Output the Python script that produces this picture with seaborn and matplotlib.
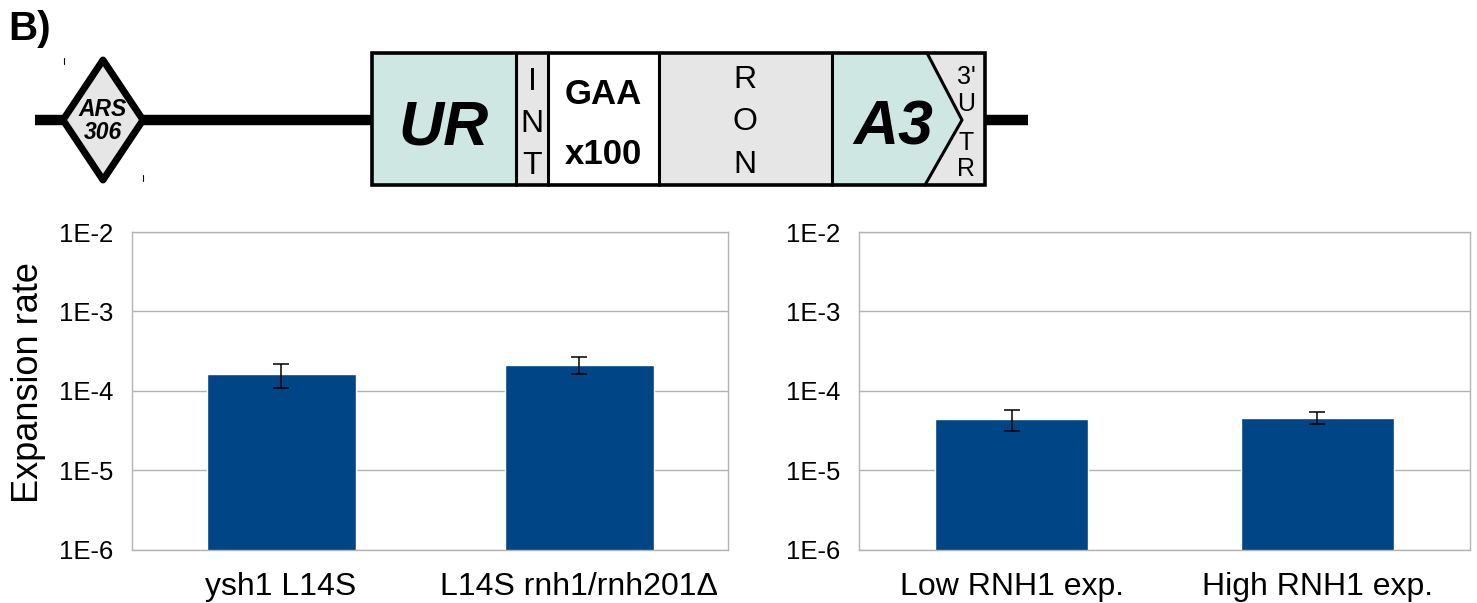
import matplotlib
matplotlib.use("Agg")
import matplotlib.pyplot as plt
import numpy as np
import seaborn as sns
from matplotlib.patches import Polygon, Rectangle
from matplotlib.ticker import NullLocator

# data
left_labels = ["ysh1 L14S", "L14S rnh1/rnh201Δ"]
left_rate = [1.62e-4, 2.10e-4]
left_low = [1.07e-4, 1.61e-4]
left_high = [2.18e-4, 2.67e-4]

right_labels = ["Low RNH1 exp.", "High RNH1 exp."]
right_rate = [4.44e-5, 4.57e-5]
right_low = [3.14e-5, 3.81e-5]
right_high = [5.77e-5, 5.44e-5]

y_ticks = [1e-6, 1e-5, 1e-4, 1e-3, 1e-2]
y_tick_labels = ["1E-6", "1E-5", "1E-4", "1E-3", "1E-2"]

sns.set_style("white")
plt.rcParams["font.family"] = ["Liberation Sans", "DejaVu Sans"]
plt.rcParams["text.color"] = "black"
plt.rcParams["axes.labelcolor"] = "black"

BAR = "#004586"
GRID = "#b3b3b3"
TEAL = "#cfe7e3"
GREY = "#e6e6e6"

W, H = 1477, 603
fig = plt.figure(figsize=(W / 100, H / 100), dpi=100)


def px_axes(x0, y0, x1, y1):
    return fig.add_axes([x0 / W, 1 - y1 / H, (x1 - x0) / W, (y1 - y0) / H])


def bar_panel(ax, labels, rate, low, high):
    sns.barplot(x=labels, y=rate, color=BAR, width=0.5, saturation=1,
                errorbar=None, ax=ax)
    ax.set_yscale("log")
    rate = np.array(rate)
    yerr = [rate - np.array(low), np.array(high) - rate]
    ax.errorbar(np.arange(len(rate)), rate, yerr=yerr, fmt="none",
                ecolor="black", elinewidth=1.1, capsize=5.5, capthick=1.1)
    ax.set_ylim(1e-6, 1e-2)
    ax.set_xlim(-0.5, len(rate) - 0.5)
    ax.set_yticks(y_ticks, labels=y_tick_labels)
    ax.yaxis.set_minor_locator(NullLocator())
    ax.set_xticks(np.arange(len(rate) + 1) - 0.5, labels=[""] * (len(rate) + 1))
    ax.set_xticks(np.arange(len(rate)), labels=labels, minor=True)
    ax.tick_params(axis="x", which="major", length=8, width=1, color=GRID,
                   direction="out")
    ax.tick_params(axis="x", which="minor", length=0, pad=16, labelsize=23,
                   labelcolor="black")
    ax.tick_params(axis="y", which="major", length=7.5, width=1, color=GRID,
                   pad=6, labelsize=18.5, direction="out", labelcolor="black")
    ax.yaxis.grid(True, color=GRID, linewidth=1)
    ax.set_axisbelow(True)
    for s in ax.spines.values():
        s.set_color(GRID)
        s.set_linewidth(1)
    ax.set_xlabel("")


ax1 = px_axes(132, 232, 728, 549.5)
bar_panel(ax1, left_labels, left_rate, left_low, left_high)
ax1.set_ylabel("Expansion rate", fontsize=26)
ax1.yaxis.set_label_coords(-86 / 596, 0.525)

ax2 = px_axes(859, 232, 1470, 549.5)
bar_panel(ax2, right_labels, right_rate, right_low, right_high)
ax2.set_ylabel("")

# construct diagram across the top
axd = px_axes(0, 0, W, 200)
axd.set_xlim(0, W)
axd.set_ylim(200, 0)
axd.axis("off")

axd.plot([35, 372], [120, 120], color="black", lw=7.5, solid_capstyle="butt")
axd.plot([985, 1028], [120, 120], color="black", lw=7.5, solid_capstyle="butt")
axd.plot([64, 64], [58, 64], color="black", lw=0.8)
axd.plot([143, 143], [175, 181], color="black", lw=0.8)

axd.add_patch(Polygon([[103, 60], [143, 120], [103, 180], [63, 120]],
                      closed=True, facecolor=GREY, edgecolor="black", lw=5,
                      joinstyle="round", zorder=3))
axd.text(103, 121, "ARS\n306", ha="center", va="center", fontsize=16.5,
         fontweight="bold", fontstyle="italic", linespacing=1.0, zorder=4)

top, bot = 53, 185
axd.add_patch(Rectangle((372, top), 144, bot - top, facecolor=TEAL, lw=0))
axd.add_patch(Rectangle((516, top), 32, bot - top, facecolor=GREY, lw=0))
axd.add_patch(Rectangle((548, top), 111, bot - top, facecolor="white", lw=0))
axd.add_patch(Rectangle((659, top), 173, bot - top, facecolor=GREY, lw=0))
axd.add_patch(Polygon([[832, top], [927, top], [962, 120], [925, bot], [832, bot]],
                      closed=True, facecolor=TEAL, lw=0))
axd.add_patch(Polygon([[927, top], [985, top], [985, bot], [925, bot], [962, 120]],
                      closed=True, facecolor=GREY, lw=0))
axd.plot([927, 962, 925], [top, 120, bot], color="black", lw=2.2)
for xb in [516, 548, 659, 832]:
    axd.plot([xb, xb], [top, bot], color="black", lw=2.2)
axd.add_patch(Rectangle((372, top), 613, bot - top, facecolor="none",
                        edgecolor="black", lw=2.6, zorder=5))

axd.text(444, 128, "UR", ha="center", va="center", fontsize=45,
         fontweight="bold", fontstyle="italic")
axd.text(893, 128, "A3", ha="center", va="center", fontsize=45,
         fontweight="bold", fontstyle="italic")
for ch, yy in zip("INT", [82, 124, 166]):
    axd.text(532, yy, ch, ha="center", va="center", fontsize=23)
for ch, yy in zip("RON", [80, 122, 165]):
    axd.text(745, yy, ch, ha="center", va="center", fontsize=23)
axd.text(603, 95, "GAA", ha="center", va="center", fontsize=25, fontweight="bold")
axd.text(603, 155, "x100", ha="center", va="center", fontsize=25, fontweight="bold")
for ch, yy in zip(["3'", "U", "T", "R"], [77, 104, 143, 169]):
    axd.text(966, yy, ch, ha="center", va="center", fontsize=18)

fig.text(8 / W, 1 - 29 / H, "B)", ha="left", va="center", fontsize=29,
         fontweight="bold")

fig.savefig("out.png", dpi=100)
